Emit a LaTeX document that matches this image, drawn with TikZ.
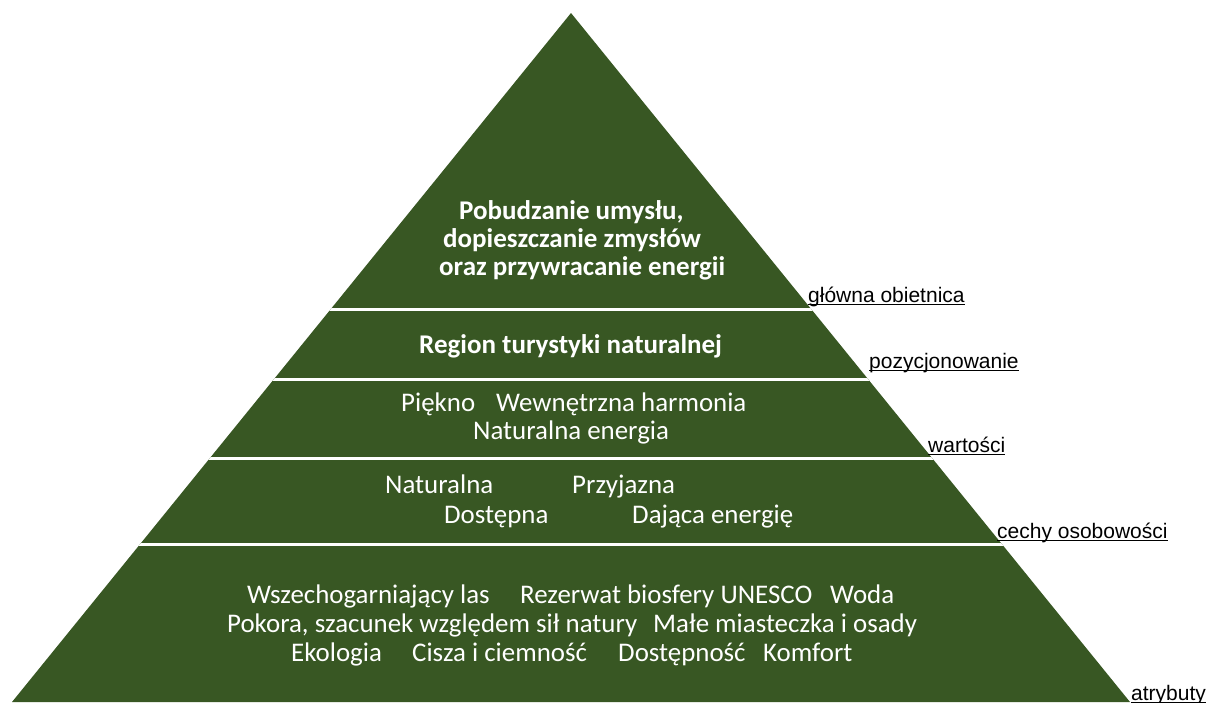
\documentclass[tikz,border=0pt]{standalone}
\usepackage{fontspec}
\setmainfont{Carlito}
\newfontfamily\lblfont{Liberation Sans}
\definecolor{pyrgreen}{RGB}{56,87,35}
\tikzset{
  txt/.style={anchor=base west, inner sep=0pt, text=white, font=\fontsize{26.9}{29}\selectfont},
  btxt/.style={txt, font=\fontsize{27}{29}\selectfont\bfseries},
  lbl/.style={anchor=base west, inner sep=0pt, text=black, font=\lblfont\fontsize{21}{24}\selectfont},
  uline/.style={line width=1.4pt, black},
  sep/.style={white, line width=3pt}
}
\newcommand{\ul}[1]{\draw[uline] ([yshift=-2.6pt]#1.base west) -- ([yshift=-2.6pt]#1.base east);}
\begin{document}
\begin{tikzpicture}[x=1pt,y=-1pt]
\useasboundingbox (0,0) rectangle (1207,702);
\coordinate (apex) at (571,13);
\coordinate (bl) at (12,702);
\coordinate (br) at (1130,702);
\fill[pyrgreen] (apex) -- (br) -- (bl) -- cycle;
\begin{scope}
  \clip (apex) -- (br) -- (bl) -- cycle;
  \draw[sep] (0,309) -- (1207,309);
  \draw[sep] (0,379) -- (1207,379);
  \draw[sep] (0,458) -- (1207,458);
  \draw[sep] (0,544) -- (1207,544);
\end{scope}
% top
\node[btxt] (t1) at (459,219) {Pobudzanie umysłu,};
\node[btxt] (t2) at (443,247) {dopieszczanie zmysłów};
\node[btxt] (t3) at (439,275) {oraz przywracanie energii};
% positioning
\node[btxt] (p1) at (419,353) {Region turystyki naturalnej};
% values
\node[txt] (v1) at (401,411) {Piękno};
\node[txt] (v2) at (496,411) {Wewnętrzna harmonia};
\node[txt] (v3) at (473,439) {Naturalna energia};
% personality
\node[txt] (c1) at (385,493) {Naturalna};
\node[txt] (c2) at (572,493) {Przyjazna};
\node[txt] (c3) at (444,523) {Dostępna};
\node[txt] (c4) at (632,523) {Dająca energię};
% attributes
\node[txt] (a1) at (247,603) {Wszechogarniający las};
\node[txt] (a2) at (520,603) {Rezerwat biosfery UNESCO};
\node[txt] (a3) at (830,603) {Woda};
\node[txt] (a4) at (227,632) {Pokora, szacunek względem sił natury};
\node[txt] (a5) at (653,632) {Małe miasteczka i osady};
\node[txt] (a6) at (291,661) {Ekologia};
\node[txt] (a7) at (412,661) {Cisza i ciemność};
\node[txt] (a8) at (618,661) {Dostępność};
\node[txt] (a9) at (763,661) {Komfort};
% labels
\node[lbl] (l1) at (808,302) {główna obietnica}; \ul{l1}
\node[lbl] (l2) at (869,368) {pozycjonowanie}; \ul{l2}
\node[lbl] (l3) at (928,452) {wartości}; \ul{l3}
\node[lbl] (l4) at (997,538) {cechy osobowości}; \ul{l4}
\node[lbl] (l5) at (1131,700) {atrybuty}; \ul{l5}
\end{tikzpicture}
\end{document}
